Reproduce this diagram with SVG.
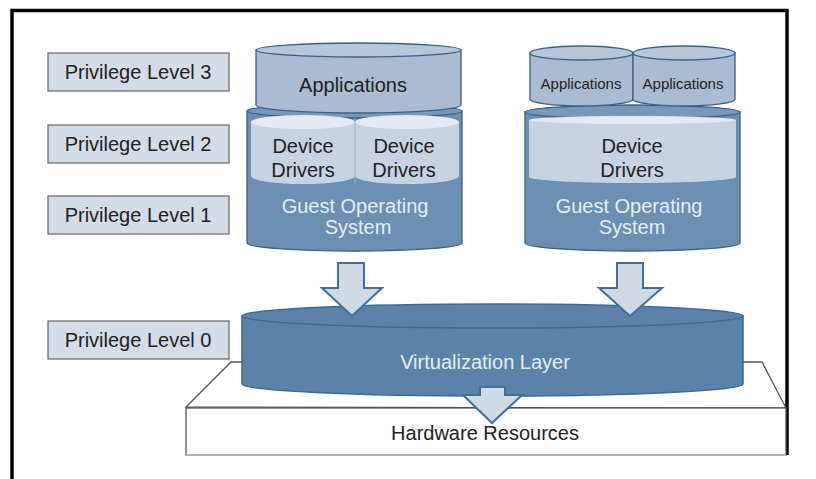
<svg xmlns="http://www.w3.org/2000/svg" width="816" height="479" viewBox="0 0 816 479">
  <defs>
    <style>
      text { font-family: "Liberation Sans", Arial, sans-serif; font-size: 20px; text-anchor: middle; }
      .dark { fill: #222222; }
      .light { fill: #e8eef4; }
      .lvl { fill: #d3dce7; stroke: #6f6f6f; stroke-width: 1.3; }
      .edge { stroke: #3d5f82; stroke-width: 1.3; }
      .gos { fill: #6b8eb2; }
      .rim { fill: #7898ba; }
      .app { fill: #a9bcd1; }
      .apptop { fill: #b6c7d9; }
      .ddbody { fill: #c7d3e0; stroke: none; }
      .ddtop { fill: #e4eaf1; stroke: none; }
      .virt { fill: #5b83aa; stroke: #3b6a95; stroke-width: 1.5; }
      .arrow { fill: #cfdae5; stroke: #3f6f9a; stroke-width: 2; stroke-linejoin: miter; }
      .hw { fill: #ffffff; stroke: #555555; stroke-width: 1.3; }
    </style>
  </defs>

  <rect width="816" height="479" fill="#ffffff"/>

  <!-- frame -->
  <path d="M12 479 V10.5 H787 V455" fill="none" stroke="#000000" stroke-width="3.5"/>

  <!-- privilege levels -->
  <g id="level3"><rect class="lvl" x="48" y="53" width="181" height="38"/><text class="dark" x="138" y="79">Privilege Level 3</text></g>
  <g id="level2"><rect class="lvl" x="48" y="125" width="181" height="38"/><text class="dark" x="138" y="151">Privilege Level 2</text></g>
  <g id="level1"><rect class="lvl" x="48" y="196" width="181" height="38"/><text class="dark" x="138" y="222">Privilege Level 1</text></g>
  <g id="level0"><rect class="lvl" x="48" y="321" width="181" height="38"/><text class="dark" x="138" y="347">Privilege Level 0</text></g>

  <!-- hardware platform -->
  <g id="hardware">
    <path class="hw" d="M186 407 L231 362 H762 L786 408 Z"/>
    <rect x="186" y="408" width="600" height="47" fill="#ffffff" stroke="#555555" stroke-width="1.3"/>
    <line x1="186" y1="455" x2="786" y2="455" stroke="#bbbbbb" stroke-width="1.5"/>
    <text class="dark" x="485" y="440">Hardware Resources</text>
  </g>

  <!-- virtualization layer -->
  <g id="virtualization">
    <path class="virt" d="M242 316 V384 A250.5 12 0 0 0 743 384 V316 Z"/>
    <ellipse class="virt" cx="492.5" cy="316" rx="250.5" ry="12"/>
    <text class="light" x="485" y="369">Virtualization Layer</text>
  </g>

  <!-- left guest -->
  <g id="guest-left">
    <path class="gos edge" d="M247 111 V243 A107.5 8 0 0 0 462 243 V111 Z"/>
    <ellipse class="rim edge" cx="354.5" cy="111" rx="107.5" ry="7"/>
    <path class="ddbody" d="M251 122 V176 A52 8 0 0 0 355 176 A52 8 0 0 0 459 176 V122 Z"/>
    <ellipse class="ddtop" cx="303" cy="122" rx="52" ry="7"/>
    <ellipse class="ddtop" cx="407" cy="122" rx="52" ry="7"/>
    <path d="M355 118 V184" stroke="#9fb2c7" stroke-width="1" fill="none"/>
    <path class="app edge" d="M256 50 V105 A102.5 8 0 0 0 461 105 V50 Z"/>
    <ellipse class="apptop edge" cx="358.5" cy="50" rx="102.5" ry="7"/>
    <text class="dark" x="353" y="92">Applications</text>
    <text class="dark" x="303" y="153">Device</text>
    <text class="dark" x="303" y="177">Drivers</text>
    <text class="dark" x="404" y="153">Device</text>
    <text class="dark" x="404" y="177">Drivers</text>
    <text class="light" x="355" y="213">Guest Operating</text>
    <text class="light" x="358" y="234">System</text>
  </g>

  <!-- right guest -->
  <g id="guest-right">
    <path class="gos edge" d="M525 112 V243 A107.5 8 0 0 0 740 243 V112 Z"/>
    <ellipse class="rim edge" cx="632.5" cy="112" rx="107.5" ry="7"/>
    <path class="ddbody" d="M529 120 V177 A103.5 6 0 0 0 736 177 V120 Z"/>
    <ellipse class="ddtop" cx="632.5" cy="120" rx="103.5" ry="4"/>
    <path class="app edge" d="M530 53 V99 A51.5 7 0 0 0 633 99 V53 Z"/>
    <ellipse class="apptop edge" cx="581.5" cy="53" rx="51.5" ry="7"/>
    <path class="app edge" d="M633 53 V99 A51 7 0 0 0 735 99 V53 Z"/>
    <ellipse class="apptop edge" cx="684" cy="53" rx="51" ry="7"/>
    <text class="dark" x="581" y="89" style="font-size:15px">Applications</text>
    <text class="dark" x="683" y="89" style="font-size:15px">Applications</text>
    <text class="dark" x="632" y="153">Device</text>
    <text class="dark" x="632" y="177">Drivers</text>
    <text class="light" x="629" y="213">Guest Operating</text>
    <text class="light" x="632" y="234">System</text>
  </g>

  <!-- connectors -->
  <g id="connectors">
    <path class="arrow" d="M338 263 H364 V288 H382 L352 316 L322 288 H338 Z"/>
    <path class="arrow" d="M617 263 H643 V288 H662 L630 316 L599 288 H617 Z"/>
    <path class="arrow" d="M480 387 H505 V395 H522 L492 423 L463 395 H480 Z"/>
  </g>
</svg>
